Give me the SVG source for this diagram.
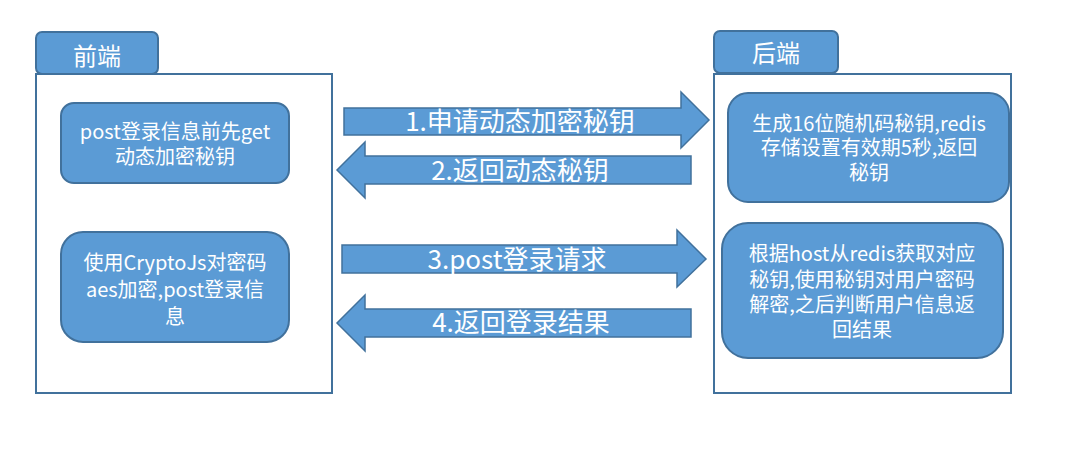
<svg xmlns="http://www.w3.org/2000/svg" width="1074" height="453" viewBox="0 0 1074 453">
<style>
.cont{fill:#fff;stroke:#41719C;stroke-width:2}
.box{fill:#5B9BD5;stroke:#41719C;stroke-width:2}
.arr{fill:#5B9BD5;stroke:#41719C;stroke-width:1.5;stroke-linejoin:miter}
text{fill:#fff;font-family:"Noto Sans CJK SC","Noto Sans",sans-serif;text-anchor:middle}
.t{font-size:20px}
.h{font-size:24px}
.a{font-size:26px}
</style>
<rect width="1074" height="453" fill="#fff"/>
<g id="frontend">
<rect class="cont" x="36" y="74" width="296" height="319"/>
<rect class="box" x="36" y="32" width="122" height="42" rx="6"/>
<text class="h" x="97" y="65">前端</text>
</g>
<g id="backend">
<rect class="cont" x="714" y="74" width="297" height="319"/>
<rect class="box" x="714" y="31" width="124" height="42" rx="6"/>
<text class="h" x="776" y="62">后端</text>
</g>
<g id="node1">
<rect class="box" x="61" y="103" width="228" height="80" rx="13"/>
<text class="t" x="175" y="139">post登录信息前先get</text>
<text class="t" x="175" y="164">动态加密秘钥</text>
</g>
<g id="node2">
<rect class="box" x="61" y="232" width="228" height="110" rx="22"/>
<text class="t" x="175" y="270">使用CryptoJs对密码</text>
<text class="t" x="175" y="297">aes加密,post登录信</text>
<text class="t" x="175" y="324">息</text>
</g>
<g id="node3">
<rect class="box" x="728" y="93" width="281" height="109" rx="20"/>
<text class="t" x="869" y="131">生成16位随机码秘钥,redis</text>
<text class="t" x="869" y="155">存储设置有效期5秒,返回</text>
<text class="t" x="869" y="180">秘钥</text>
</g>
<g id="node4">
<rect class="box" x="722" y="223" width="281" height="135" rx="26"/>
<text class="t" x="862" y="261">根据host从redis获取对应</text>
<text class="t" x="862" y="287">秘钥,使用秘钥对用户密码</text>
<text class="t" x="862" y="312">解密,之后判断用户信息返</text>
<text class="t" x="862" y="337">回结果</text>
</g>
<g id="connectors">
<g id="arrow1">
<polygon class="arr" points="344,108 681,108 681,92 709,120 681,148 681,135 344,135"/>
<text class="a" x="520" y="131">1.申请动态加密秘钥</text>
</g>
<g id="arrow2">
<polygon class="arr" points="691,156 365,156 365,142 337,170 365,198 365,184 691,184"/>
<text class="a" x="520" y="180">2.返回动态秘钥</text>
</g>
<g id="arrow3">
<polygon class="arr" points="342,245 677,245 677,230 706,259 677,287 677,273 342,273"/>
<text class="a" x="517" y="269">3.post登录请求</text>
</g>
<g id="arrow4">
<polygon class="arr" points="691,309 365,309 365,295 337,323 365,351 365,337 691,337"/>
<text class="a" x="521" y="332">4.返回登录结果</text>
</g>
</g>
</svg>
